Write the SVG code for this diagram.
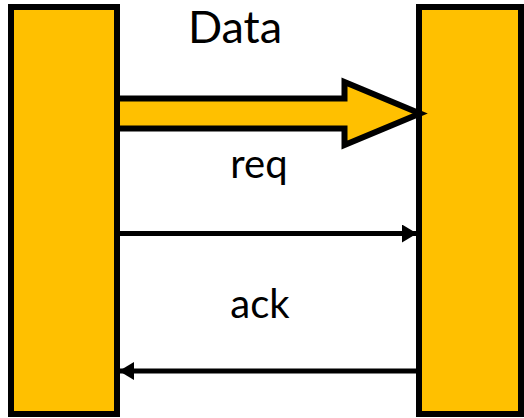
<svg xmlns="http://www.w3.org/2000/svg" width="524" height="418" viewBox="0 0 524 418">
  <style>
    .block { fill: #FFC000; stroke: #000; stroke-width: 6; }
    .label { font-family: Lato, "Open Sans", "Liberation Sans", sans-serif; fill: #000; text-anchor: middle; }
    .sig { stroke: #000; stroke-width: 5; fill: none; }
  </style>
  <defs>
    <marker id="head" viewBox="0 0 15 18" refX="15" refY="9" markerWidth="15" markerHeight="18" markerUnits="userSpaceOnUse" orient="auto">
      <path d="M0,0 L15,9 L0,18 Z" fill="#000"/>
    </marker>
  </defs>
  <rect width="524" height="418" fill="#fff"/>

  <g id="sender">
    <rect class="block" x="11" y="7" width="106" height="407"/>
  </g>
  <g id="receiver">
    <rect class="block" x="419" y="7" width="102" height="407"/>
  </g>

  <g id="connectors">
    <!-- wide data bus arrow -->
    <polygon class="block" stroke-linejoin="miter" points="117,98.5 344.5,98.5 344.5,82 420,113.5 344.5,145 344.5,128.5 117,128.5"/>
    <!-- req -->
    <line class="sig" x1="117" y1="233.5" x2="417" y2="233.5" marker-end="url(#head)"/>
    <!-- ack -->
    <line class="sig" x1="419" y1="371" x2="119" y2="371" marker-end="url(#head)"/>
  </g>

  <g id="labels">
    <text class="label" x="235" y="43" font-size="45">Data</text>
    <text class="label" x="259" y="178" font-size="40">req</text>
    <text class="label" x="260" y="318" font-size="40">ack</text>
  </g>
</svg>
